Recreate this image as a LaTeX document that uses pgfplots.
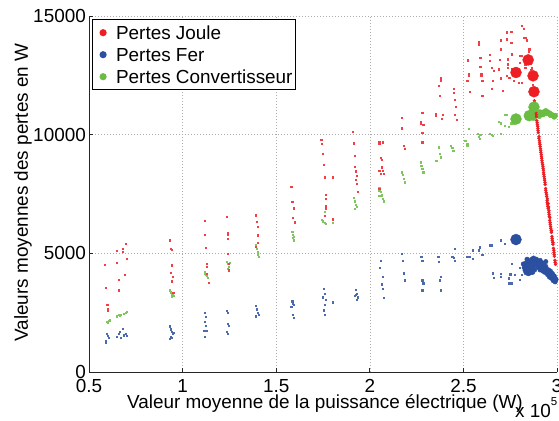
\documentclass[border=0pt]{standalone}
\usepackage{fontspec}
\setmainfont{Liberation Sans}
\usepackage{pgfplots}
\pgfplotsset{compat=1.18}
\usetikzlibrary{calc}
\definecolor{cJoule}{RGB}{237,30,36}
\definecolor{cFer}{RGB}{44,80,160}
\definecolor{cConv}{RGB}{106,188,66}
\newcommand{\fs}{\fontsize{18.9bp}{22bp}\selectfont}
\begin{document}
\fs
\begin{tikzpicture}
\useasboundingbox (-89bp,-49bp) rectangle (470bp,372bp);
\begin{axis}[
  name=ax, at={(0,0)}, anchor=south west,
  scale only axis, width=468bp, height=356bp,
  xmin=0.5, xmax=3, ymin=0, ymax=15000,
  scaled ticks=false,
  axis x line*=bottom, axis y line*=left,
  axis line style={line width=1bp, black!85},
  xtick={0.5,1,1.5,2,2.5,3}, xticklabels={0.5,1,1.5,2,2.5,3},
  ytick={0,5000,10000,15000}, yticklabels={0,5000,10000,15000},
  tick align=inside, major tick length=4bp,
  tick style={line width=0.8bp, black!85},
  grid=major,
  grid style={gray!65, line width=0.6bp, dash pattern=on 1bp off 2bp},
  xticklabel style={inner sep=0pt, anchor=north, yshift=-7bp},
  yticklabel style={inner sep=0pt, anchor=east, xshift=-3bp},
  ticklabel style={font=\fs},
  clip=false,
  legend cell align=left,
  legend style={at={(rel axis cs:0,1)}, anchor=north west,
    xshift=2.7bp, yshift=-3.3bp, draw=black, line width=0.8bp, fill=white,
    inner xsep=2.5bp, inner ysep=3bp, row sep=2bp, column sep=0pt,
    font=\fs,
    cells={anchor=base west},
    nodes={inner sep=0pt, text height=17bp, text depth=3bp}},
  legend image code/.code={\path[draw=none] (0bp,0bp) -- (21.5bp,0bp);
    \fill[#1, draw=none] (8.5bp,7bp) circle (3.6bp);},
]
% petits points : pertes convertisseur
\addplot[forget plot, only marks, mark=square*, mark size=0.6bp, cConv!85!white] coordinates {
(0.60,2100) (0.605,2150) (0.61,2180) (0.595,2120)
(0.65,2350) (0.66,2400) (0.67,2420) (0.685,2450) (0.695,2500) (0.70,2530) (0.665,2380)
(0.93,3450) (0.935,3350) (0.94,3300) (0.945,3250) (0.95,3200) (0.935,3400) (0.94,3190)
(1.12,4210) (1.125,4100) (1.13,4050) (1.135,3980) (1.12,4150)
(1.235,4640) (1.24,4550) (1.245,4450) (1.24,4360) (1.25,4600)
(1.39,5340) (1.395,5200) (1.40,5050) (1.40,4950) (1.405,4870)
(1.585,5900) (1.59,5800) (1.595,5700) (1.59,5660) (1.595,5550)
(1.745,6420) (1.75,6350) (1.76,6300) (1.765,6250) (1.76,6740) (1.80,6300)
(1.915,7340) (1.92,7200) (1.925,7050) (1.93,6950) (1.92,6880)
(2.05,7760) (2.06,7600) (2.065,7450) (2.07,7300) (2.075,7200) (2.05,7650) (2.05,7440)
(2.17,8420) (2.175,8300) (2.18,8150) (2.185,8000)
(2.27,8840) (2.275,8700) (2.28,8550) (2.285,8420)
(2.355,8910) (2.37,9470) (2.375,9200) (2.38,9050)
(2.43,9540) (2.44,9450) (2.445,9330)
(2.51,9750) (2.52,9620) (2.52,9540) (2.53,10240)
(2.575,10030) (2.58,9900) (2.585,9820) (2.59,9990)
(2.64,10030) (2.65,10000) (2.655,9950)
(2.69,10550) (2.70,10480) (2.72,10380) (2.74,10350) (2.72,10840) (2.73,10840)
(2.70,10030) (2.755,10480) (2.76,10480) (2.77,10450)
};
% bande dense convertisseur
\addplot[forget plot, only marks, mark=*, mark size=2.6bp, cConv] coordinates {
(2.86,10750) (2.87,10900) (2.865,10950) (2.885,10800) (2.89,10900) (2.90,10850)
(2.91,10950) (2.92,10900) (2.93,10950) (2.94,11000) (2.95,10950) (2.96,10900)
(2.97,10850) (2.98,10800) (2.99,10800) (2.875,10700) (2.905,10780) (2.925,10850)
(2.945,10900) (2.965,10820) (2.985,10750)
};
% petits points : pertes fer
\addplot[forget plot, only marks, mark=square*, mark size=0.6bp, cFer!85!white] coordinates {
(0.595,1600) (0.60,1520) (0.605,1430) (0.59,1300) (0.59,1220)
(0.65,1480) (0.66,1600) (0.665,1700) (0.68,1820) (0.685,1550) (0.695,1600) (0.70,1520) (0.67,1430)
(0.93,1930) (0.935,1800) (0.94,1700) (0.945,1600) (0.935,1500) (0.94,1430) (0.93,1390) (0.95,1650)
(1.12,2490) (1.125,2320) (1.12,2110) (1.125,1950) (1.115,1735) (1.12,1480) (1.13,1750)
(1.235,2580) (1.24,2490) (1.24,2050) (1.245,1950) (1.235,1700) (1.24,1630)
(1.39,2790) (1.395,2650) (1.40,2500) (1.405,2400) (1.39,2350)
(1.585,2980) (1.59,2900) (1.595,2850) (1.58,2750) (1.59,2400) (1.595,2300)
(1.755,3520) (1.76,3300) (1.75,3150) (1.765,3050) (1.76,2850) (1.755,2600) (1.76,2400) (1.80,2940)
(1.925,3470) (1.93,3300) (1.92,3200) (1.935,3150) (1.93,3050) (1.925,3250)
(2.06,4700) (2.055,4400) (2.07,4000) (2.065,3700) (2.07,3500) (2.075,3140)
(2.17,5000) (2.175,4700) (2.18,4160) (2.185,3870)
(2.275,4870) (2.28,4700) (2.28,3870) (2.285,3740) (2.28,3450)
(2.365,4870) (2.37,4660) (2.38,4030) (2.375,3870) (2.38,3450)
(2.455,5210) (2.45,4830) (2.455,4700) (2.44,4870)
(2.52,4870) (2.535,4870) (2.55,5130) (2.55,4790)
(2.58,5130) (2.585,5260) (2.60,4950)
(2.64,5340) (2.65,5340) (2.655,4160) (2.66,3990)
(2.70,5550) (2.72,5420) (2.70,4000) (2.70,4150)
(2.745,3740) (2.74,3950) (2.75,4120) (2.76,4580) (2.775,4100) (2.76,3740)
(2.80,4400) (2.81,4100) (2.80,3900)
};
% amas dense fer
\addplot[forget plot, only marks, mark=*, mark size=2.3bp, cFer] coordinates {
(2.89,4750) (2.90,4600) (2.90,4400) (2.91,4700) (2.915,4350) (2.92,4600)
(2.925,4250) (2.93,4500) (2.935,4200) (2.94,4650) (2.945,4300) (2.95,4100)
(2.955,4300) (2.96,4000) (2.965,4250) (2.97,3950) (2.975,4150) (2.98,3850)
(2.985,4050) (2.99,3800) (2.995,3900) (2.88,4500) (2.875,4800) (2.88,4300)
(2.87,4200) (2.85,4650) (2.86,4400) (2.83,4500) (2.82,4550) (2.84,4750)
(2.895,4550) (2.905,4500) (2.91,4300) (2.92,4450) (2.93,4350) (2.94,4450)
(2.95,4300) (2.96,4150) (2.97,4100) (2.98,4000) (2.99,3950) (2.885,4650)
(2.855,4500) (2.865,4750) (2.835,4600) (2.825,4400)
};
% petits points : pertes Joule
\addplot[forget plot, only marks, mark=square*, mark size=0.6bp, cJoule!85!white] coordinates {
(0.585,4525) (0.59,3560) (0.597,2840) (0.60,2680) (0.60,2600)
(0.695,5420) (0.68,5200) (0.65,5100) (0.68,5070) (0.70,4790) (0.65,4620) (0.69,4090) (0.66,3900) (0.66,3450)
(0.93,5550) (0.935,5200) (0.94,5160) (0.94,4500) (0.935,4170) (0.945,4000) (0.94,3860) (0.94,3790) (0.95,3330)
(1.12,6390) (1.12,5790) (1.125,5240) (1.13,4570) (1.13,4430) (1.13,4150) (1.14,3750)
(1.235,6530) (1.24,5850) (1.24,5800) (1.24,5620) (1.24,4990) (1.245,4570) (1.245,4290)
(1.39,6610) (1.395,6340) (1.40,6130) (1.40,5760) (1.40,5460) (1.39,5270)
(1.58,7820) (1.585,7190) (1.595,6900) (1.59,6510) (1.60,6310)
(1.74,9790) (1.745,9610) (1.75,9190) (1.755,8740) (1.76,8210) (1.80,8210) (1.765,7480)
(1.765,7300) (1.765,6990) (1.765,6880) (1.76,6600) (1.80,6440)
(1.91,10140) (1.915,9640) (1.92,9110) (1.92,8660) (1.925,8460) (1.93,8280) (1.925,8100) (1.93,7930) (1.935,7580)
(2.05,9680) (2.07,9680) (2.06,9020) (2.065,8940) (2.065,8630) (2.07,8490) (2.06,8350) (2.075,8350)
(2.05,9620) (2.05,8490) (2.05,7730)
(2.17,10700) (2.17,10270) (2.18,9540) (2.185,9410)
(2.28,10930) (2.27,10540) (2.27,10470) (2.285,10420) (2.28,10070) (2.28,9680)
(2.35,10870) (2.35,10800) (2.37,12060) (2.38,12380) (2.38,12270) (2.375,11640) (2.39,10830) (2.385,10660)
(2.45,11920) (2.45,11780) (2.455,11460) (2.46,11180) (2.455,10830) (2.465,10620)
(2.525,13140) (2.53,12550) (2.53,12480) (2.52,12270) (2.535,11820)
(2.58,13920) (2.58,13810) (2.59,13250) (2.59,12860) (2.595,12580) (2.595,12480) (2.60,12270) (2.60,11640)
(2.64,13360) (2.64,13110) (2.65,12830) (2.66,12690) (2.655,12270) (2.65,11920)
(2.70,13980) (2.70,13600) (2.695,13170) (2.69,12760) (2.70,12380) (2.71,11850)
(2.73,14320) (2.73,14020) (2.735,13180) (2.735,12970) (2.735,12830) (2.73,12480) (2.745,12410)
(2.755,14330) (2.755,13890) (2.76,13390) (2.76,12760) (2.77,12270)
(2.80,13320) (2.81,13320) (2.81,14580) (2.82,14480) (2.82,14090) (2.84,13980) (2.85,13600)
(2.855,13600) (2.85,13500) (2.855,13000) (2.86,13000) (2.83,12940) (2.83,12830) (2.795,12200)
(2.81,12200) (2.865,12800) (2.86,12750) (2.865,12300) (2.87,12100) (2.83,14080) (2.80,13020)
};
% trace dense Joule
\addplot[forget plot, only marks, mark=*, mark size=1.5bp, cJoule] coordinates {
(2.879,11430) (2.881,11261) (2.884,11093) (2.887,10925) (2.890,10757) (2.892,10589)
(2.895,10421) (2.898,10253) (2.900,10085) (2.904,9917) (2.906,9749) (2.909,9581)
(2.912,9413) (2.914,9245) (2.917,9077) (2.920,8908) (2.923,8740) (2.926,8572)
(2.928,8404) (2.931,8236) (2.934,8068) (2.937,7900) (2.939,7732) (2.942,7564)
(2.945,7396) (2.947,7227) (2.950,7059) (2.953,6891) (2.956,6723) (2.959,6555)
(2.961,6387) (2.964,6219) (2.967,6051) (2.970,5883) (2.973,5715) (2.975,5547)
(2.978,5379) (2.981,5211) (2.984,5042) (2.986,4874) (2.989,4706) (2.992,4538)
(2.903,9850) (2.910,9500) (2.918,9000) (2.927,8500) (2.949,7300) (2.952,7100)
(2.955,6950) (2.957,6800) (2.962,6500) (2.971,5950) (2.979,5450)
(2.880,11350) (2.886,11000) (2.889,10840) (2.894,10500) (2.897,10340) (2.899,10170)
(2.907,9660) (2.913,9330) (2.916,9160) (2.921,8820) (2.925,8650) (2.930,8320)
(2.933,8150) (2.936,7980) (2.940,7650) (2.944,7480) (2.948,7150) (2.951,6980)
(2.958,6640) (2.963,6300) (2.966,6130) (2.969,5970) (2.974,5630) (2.977,5460)
(2.983,5130) (2.985,4960) (2.990,4620)
};
% gros marqueurs
\addplot[forget plot, only marks, mark=*, mark size=5.5bp, cConv] coordinates {
(2.781,10660) (2.877,11160) (2.852,10800)
};
\addplot[forget plot, only marks, mark=*, mark size=5.5bp, cFer] coordinates {
(2.781,5580) (2.870,4590) (2.847,4280)
};
\addplot[forget plot, only marks, mark=*, mark size=5.5bp, cJoule] coordinates {
(2.846,13150) (2.781,12620) (2.872,12480) (2.877,11810)
};
\addlegendimage{cJoule}\addlegendentry{Pertes Joule}
\addlegendimage{cFer}\addlegendentry{Pertes Fer}
\addlegendimage{cConv}\addlegendentry{Pertes Convertisseur}
\end{axis}
\node[anchor=base] at ($(ax.south)+(2bp,-36bp)$) {Valeur moyenne de la puissance électrique (W)};
\node[rotate=90, anchor=base] at ($(ax.west)+(-61bp,1.5bp)$) {Valeurs moyennes des pertes en W};
\node[anchor=base west, inner sep=0pt] at ($(ax.south east)+(-42bp,-45bp)$) {x 10\raisebox{12bp}{\fontsize{11.5bp}{12bp}\selectfont 5}};
\end{tikzpicture}
\end{document}
